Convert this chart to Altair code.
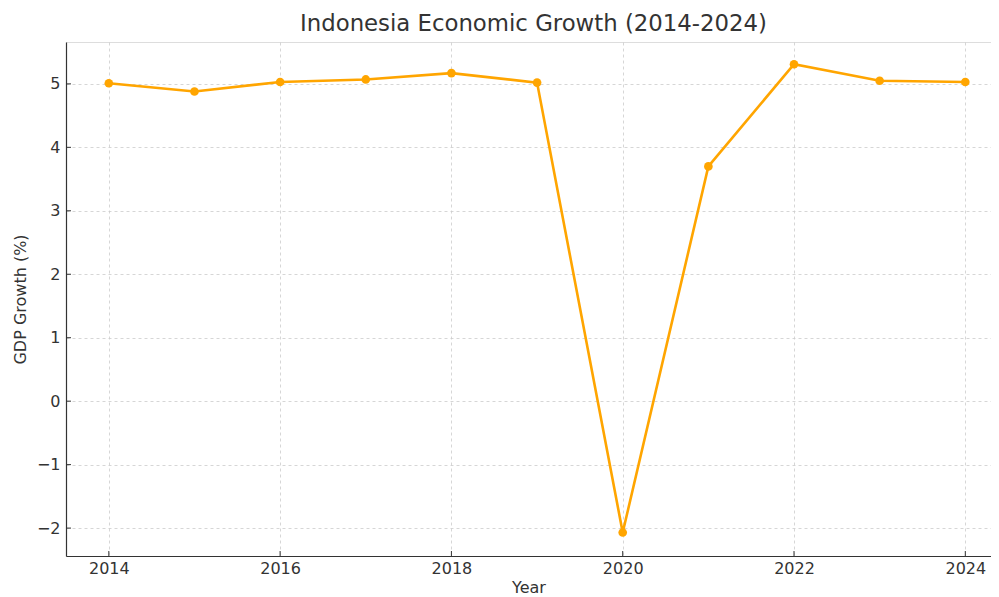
import altair as alt
import pandas as pd

years = [2014, 2015, 2016, 2017, 2018, 2019, 2020, 2021, 2022, 2023, 2024]
growth = [5.01, 4.88, 5.03, 5.07, 5.17, 5.02, -2.07, 3.70, 5.31, 5.05, 5.03]
x_ticks = [2014, 2016, 2018, 2020, 2022, 2024]
y_ticks = [-2, -1, 0, 1, 2, 3, 4, 5]

df = pd.DataFrame({"Year": years, "Growth": growth})
xt = pd.DataFrame({"t": x_ticks})
yt = pd.DataFrame({"t": y_ticks})

FONT = "DejaVu Sans"
TXT = "#333333"
xscale = alt.Scale(domain=[2013.5, 2024.30], nice=False, zero=False)
yscale = alt.Scale(domain=[-2.44, 5.66], nice=False, zero=False)

xaxis = alt.Axis(values=x_ticks, format="d", title="Year", grid=True,
                 gridDash=[3, 3], gridColor="#cccccc", gridWidth=0.8,
                 domainColor="#333333", domainWidth=1.2, tickSize=0,
                 labelPadding=4, labelFont=FONT, labelFontSize=16, labelColor=TXT,
                 titleFont=FONT, titleFontSize=16, titleColor=TXT, titleFontWeight="normal",
                 titlePadding=3)
yaxis = alt.Axis(values=y_ticks, format="d", title="GDP Growth (%)", grid=True,
                 gridDash=[3, 3], gridColor="#cccccc", gridWidth=0.8,
                 domainColor="#333333", domainWidth=1.2, tickSize=0,
                 labelPadding=6, labelFont=FONT, labelFontSize=16, labelColor=TXT,
                 titleFont=FONT, titleFontSize=16, titleColor=TXT, titleFontWeight="normal",
                 titlePadding=8)

line = alt.Chart(df).mark_line(color="#FFA500", strokeWidth=2.6).encode(
    x=alt.X("Year:Q", scale=xscale, axis=xaxis),
    y=alt.Y("Growth:Q", scale=yscale, axis=yaxis),
)
pts = alt.Chart(df).mark_circle(color="#FFA500", size=75, opacity=1).encode(
    x=alt.X("Year:Q", scale=xscale),
    y=alt.Y("Growth:Q", scale=yscale),
)
xticks_in = alt.Chart(xt).mark_rule(color="#333333", strokeWidth=1).encode(
    x=alt.X("t:Q", scale=xscale),
    y=alt.value(514), y2=alt.value(509),
)
yticks_in = alt.Chart(yt).mark_rule(color="#333333", strokeWidth=1).encode(
    y=alt.Y("t:Q", scale=yscale),
    x=alt.value(0), x2=alt.value(5),
)

chart = alt.layer(line, pts, xticks_in, yticks_in).properties(
    width=925, height=514,
    title=alt.TitleParams("Indonesia Economic Growth (2014-2024)", font=FONT, fontSize=22.8,
                          fontWeight="normal", color=TXT, anchor="middle", offset=5,
                          baseline="bottom", dx=5, dy=22),
    autosize=alt.AutoSizeParams(type="none"),
    padding={"left": 58, "top": 34, "right": 0, "bottom": 42},
).configure_view(stroke=None).configure(background="white")

chart.save("out.html", embed_options={"renderer": "svg", "actions": False})
